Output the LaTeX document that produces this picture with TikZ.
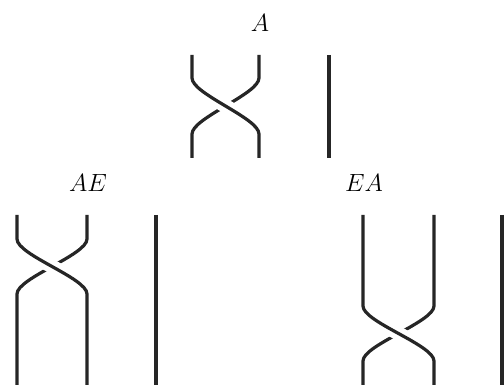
\documentclass[tikz,border=0pt]{standalone}
\begin{document}
\begin{tikzpicture}[x=1pt,y=-1pt,
  strand/.style={line width=3.2pt,black!85},
  over/.style={strand,preaction={draw,white,line width=14pt}},
  lab/.style={anchor=base,font=\fontsize{24}{28}\selectfont,inner sep=0pt}]
\useasboundingbox (0,0) rectangle (504,385);
% braid crossing: #1,#2 strand x; #3 top, #4/#5 crossing span, #6 bottom; #7 free strand x
\newcommand\braidcross[7]{%
  \draw[strand] (#1,#6) -- (#1,#5) .. controls (#1,#5-16) and (#2,#4+16) .. (#2,#4) -- (#2,#3);
  \draw[over] (#1,#3) -- (#1,#4) .. controls (#1,#4+16) and (#2,#5-16) .. (#2,#5) -- (#2,#6);
  \draw[strand] (#7,#3) -- (#7,#6);}
% A
\node[lab] (lA) at (260,32) {$A$};
\braidcross{192}{259}{55}{78}{134}{158}{329}
% AE
\node[lab] (lAE) at (88,192) {$AE$};
\braidcross{17}{87}{215}{239}{294}{390}{156}
% EA
\node[lab] (lEA) at (364,192) {$EA$};
\braidcross{363}{434}{215}{306}{361}{390}{502}
\end{tikzpicture}
\end{document}
